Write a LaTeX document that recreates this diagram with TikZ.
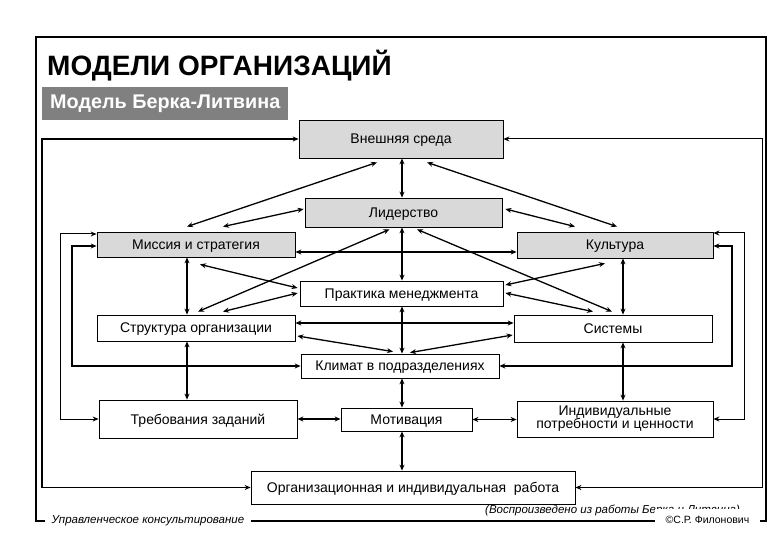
\documentclass[tikz,border=0pt]{standalone}
\usepackage{fontspec}
\setmainfont{Liberation Sans}
\usetikzlibrary{arrows.meta,calc}
\definecolor{boxgray}{HTML}{D9D9D9}
\definecolor{bargray}{HTML}{808080}
\begin{document}
\begin{tikzpicture}[x=1pt,y=-1pt,
  boxbase/.style={draw, line width=0.8pt, inner sep=0pt, align=center, font=\fontsize{14}{15}\selectfont},
  box/.style={boxbase, text depth=0pt},
  gbox/.style={box, fill=boxgray},
  tip/.tip={Stealth[length=6pt,width=5pt]},
  dbl/.style={tip-tip, line width=1.6pt, line join=miter},
  dblthin/.style={tip-tip, line width=1pt, line join=miter},
  dg/.style={tip-tip, line width=1.3pt},
  foot/.style={fill=white, inner ysep=2pt, font=\fontsize{11.5}{13}\selectfont\itshape}
]
\fill[white] (0,0) rectangle (780,540);
\useasboundingbox (0,0) rectangle (780,540);

% frame and titles
\draw[line width=2.5pt] (36,37) rectangle (766,521);
\node[anchor=west, inner sep=0pt, font=\fontsize{28}{30}\selectfont\bfseries] (title) at (47,66) {МОДЕЛИ ОРГАНИЗАЦИЙ};
\node[anchor=north west, fill=bargray, text=white, inner xsep=8pt, inner ysep=0pt, minimum height=33pt, font=\fontsize{19.8}{21}\selectfont\bfseries] (sub) at (42,87) {\makebox[230pt][l]{Модель Берка-Литвина}};

% boxes
\node[gbox, minimum width=204pt, minimum height=38pt] (env) at (401,139) {Внешняя среда};
\node[gbox, minimum width=197pt, minimum height=29pt] (lead) at (403.5,212.5) {Лидерство};
\node[gbox, minimum width=198pt, minimum height=25pt] (mis) at (196,244.5) {Миссия и стратегия};
\node[gbox, minimum width=196pt, minimum height=26pt] (cul) at (615,245) {Культура};
\node[box, minimum width=203pt, minimum height=25pt] (prac) at (401.5,293.5) {Практика менеджмента};
\node[box, minimum width=198pt, minimum height=26pt] (str) at (196,328) {Структура организации};
\node[box, minimum width=198pt, minimum height=27pt] (sys) at (613,328.5) {Системы};
\node[box, minimum width=198pt, minimum height=24pt] (clim) at (400,366) {Климат в подразделениях};
\node[box, minimum width=198pt, minimum height=38pt] (req) at (198,419) {Требования заданий};
\node[box, minimum width=131pt, minimum height=23pt] (mot) at (406.5,419.5) {Мотивация};
\node[boxbase, minimum width=196pt, minimum height=36pt] (ind) at (615,419) {Индивидуальные\\[-2pt]потребности и ценности};
\node[box, minimum width=324pt, minimum height=33pt] (perf) at (413,487.5) {Организационная и индивидуальная\ \ работа};

% helper coordinates
\coordinate (cx) at (402,0);
\coordinate (lx) at (187,0);
\coordinate (rx) at (623,0);
\coordinate (lo) at (42,0);
\coordinate (l1) at (60,0);
\coordinate (l2) at (72,0);
\coordinate (r1) at (744,0);
\coordinate (r2) at (732,0);
\coordinate (ro) at (762,0);
\coordinate (ma) at ($(mis.west)+(0,-10.5)$);
\coordinate (mb) at ($(mis.west)+(0,1.5)$);
\coordinate (ca) at ($(cul.east)+(0,-12)$);
\coordinate (cb) at ($(cul.east)+(0,1)$);

% vertical connectors
\draw[dbl] (env.south -| cx) -- (lead.north -| cx);
\draw[dbl] (lead.south -| cx) -- (prac.north -| cx);
\draw[dbl] (prac.south -| cx) -- (clim.north -| cx);
\draw[dbl] (clim.south -| cx) -- (mot.north -| cx);
\draw[dbl] (mot.south -| cx) -- (perf.north -| cx);
\draw[dbl] (mis.south -| lx) -- (str.north -| lx);
\draw[dbl] (str.south -| lx) -- (req.north -| lx);
\draw[dbl] (cul.south -| rx) -- (sys.north -| rx);
\draw[dbl] (sys.south -| rx) -- (ind.north -| rx);

% horizontal connectors
\draw[dbl] ($(mis.east)+(0,7.5)$) -- ($(cul.west)+(0,7)$);
\draw[dbl] ($(str.east)+(0,-5)$) -- ($(sys.west)+(0,-5.5)$);
\draw[dbl] (req.east) -- (req.east -| mot.west);
\draw[dbl] (mot.east) -- (mot.east -| ind.west);

% diagonal connectors
\draw[dg] ($(env.south)+(-24,4)$) -- ($(mis.north)+(-9,-5)$);
\draw[dg] ($(env.south)+(26,4)$) -- ($(cul.north)+(2,-5)$);
\draw[dg] ($(lead.west)+(-1,-3.5)$) -- ($(mis.north)+(27,-5)$);
\draw[dg] ($(lead.east)+(3,-3.5)$) -- ($(cul.north)+(-40,-5)$);
\draw[dg] ($(lead.south)+(-14,2)$) -- ($(str.north)+(2,-3)$);
\draw[dg] ($(lead.south)+(13.5,2)$) -- ($(sys.north)+(-1,-3)$);
\draw[dg] ($(mis.south)+(4,7)$) -- ($(prac.west)+(-2,-5.5)$);
\draw[dg] ($(cul.south)+(-10,5)$) -- ($(prac.east)+(2,-8.5)$);
\draw[dg] ($(prac.west)+(-2,-0.5)$) -- ($(str.north)+(27,-3)$);
\draw[dg] ($(prac.east)+(2,-0.5)$) -- ($(sys.north)+(-20,-3)$);
\draw[dg] ($(str.east)+(2,8)$) -- ($(clim.north)+(-7,-2)$);
\draw[dg] ($(sys.west)+(-1,6.5)$) -- ($(clim.north)+(10,-1)$);

% feedback loops
\draw[dbl] (env.west) -- (env.west -| lo) -- (perf.west -| lo) -- (perf.west);
\draw[dblthin] (env.east) -- (env.east -| ro) -- (perf.east -| ro) -- (perf.east);
\draw[dblthin] (ma) -- (ma -| l1) -- (req.west -| l1) -- (req.west);
\draw[dbl] (mb) -- (mb -| l2) -- (clim.west -| l2) -- (clim.west);
\draw[dblthin] (ca) -- (ca -| r1) -- (ind.east -| r1) -- (ind.east);
\draw[dbl] (cb) -- (cb -| r2) -- (clim.east -| r2) -- (clim.east);

% footer
\node[foot, inner xsep=7pt] (cons) at (148,520.5) {Управленческое консультирование};
\node[anchor=west, inner sep=0pt, font=\fontsize{11.5}{13}\selectfont\itshape] (src) at (485,510) {(Воспроизведено из работы Берка и Литвина)};
\node[fill=white, inner sep=0pt, minimum width=105pt, minimum height=22pt, font=\fontsize{10.5}{12}\selectfont] (auth) at (707.5,520) {©С.Р. Филонович};
\end{tikzpicture}
\end{document}
